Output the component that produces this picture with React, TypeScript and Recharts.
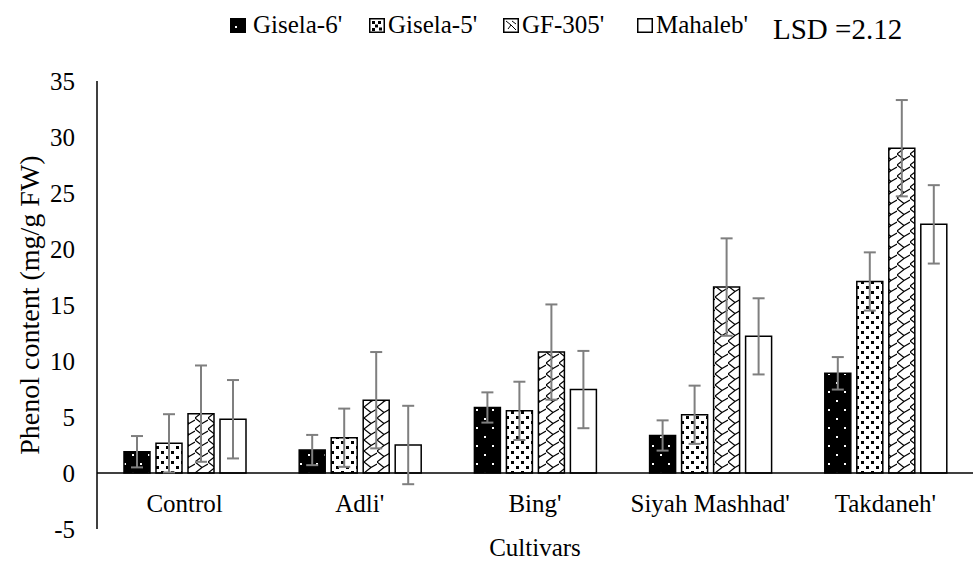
import { BarChart, Bar, XAxis, YAxis, ErrorBar, ReferenceLine } from 'recharts'

const FONT = "'Liberation Serif', 'Times New Roman', Times, serif"

// cultivars on the x axis
const categories = ['Control', "Adli'", "Bing'", "Siyah Mashhad'", "Takdaneh'"]

// phenol content per rootstock (mg/g FW)
const gisela6 = [1.9, 2.05, 5.85, 3.35, 8.9]
const gisela5 = [2.65, 3.15, 5.55, 5.2, 17.1]
const gf305 = [5.3, 6.5, 10.8, 16.6, 29.0]
const mahaleb = [4.8, 2.5, 7.45, 12.2, 22.2]

// error bar half-lengths
const gisela6Err = [1.4, 1.35, 1.35, 1.35, 1.45]
const gisela5Err = [2.6, 2.6, 2.6, 2.6, 2.6]
const gf305Err = [4.3, 4.3, 4.25, 4.35, 4.3]
const mahalebErr = [3.5, 3.5, 3.45, 3.4, 3.5]

const yTicks = [-5, 0, 5, 10, 15, 20, 25, 30, 35]

const chartData = categories.map((name, i) => ({
  name,
  g6: gisela6[i],
  g6Err: gisela6Err[i],
  g5: gisela5[i],
  g5Err: gisela5Err[i],
  gf: gf305[i],
  gfErr: gf305Err[i],
  mh: mahaleb[i],
  mhErr: mahalebErr[i],
}))

const series = [
  { key: 'g6', err: 'g6Err', name: "Gisela-6'", fill: 'url(#patG6)' },
  { key: 'g5', err: 'g5Err', name: "Gisela-5'", fill: 'url(#patG5)' },
  { key: 'gf', err: 'gfErr', name: "GF-305'", fill: 'url(#patGF)' },
  { key: 'mh', err: 'mhErr', name: "Mahaleb'", fill: '#ffffff' },
]

function CategoryTick({ x, y, payload }: any) {
  return (
    <text x={x} y={y - 17} textAnchor="middle" style={{ fontFamily: FONT, fontSize: 25 }} fill="#000">
      {payload.value}
    </text>
  )
}

function LegendIcon({ kind }: { kind: string }) {
  return (
    <svg width={16} height={15} style={{ display: 'block' }}>
      <rect x={0.75} y={0.75} width={14.5} height={13.5} fill={kind === 'g6' ? '#000' : '#fff'} stroke="#000" strokeWidth={1.5} />
      {kind === 'g6' && <rect x={5} y={8} width={2} height={2} fill="#fff" />}
      {kind === 'g5' && (
        <g fill="#000">
          <rect x={3} y={3} width={3} height={3} />
          <rect x={9} y={3} width={3} height={3} />
          <rect x={6} y={6.5} width={3} height={3} />
          <rect x={3} y={10} width={3} height={3} />
          <rect x={10} y={9.5} width={3} height={3} />
        </g>
      )}
      {kind === 'gf' && (
        <path d="M3 3 L8 7 L5 11 M8 7 L13 12 M9 3 L13 6" fill="none" stroke="#000" strokeWidth={1} />
      )}
    </svg>
  )
}

// left edges of the legend entries
const legendLeft = [230, 369, 503, 637]

function ChartLegend() {
  return (
    <div style={{ position: 'absolute', left: 0, top: 0, width: 976, height: 45, fontFamily: FONT, color: '#000' }}>
      {series.map((s, i) => (
        <div
          key={s.key}
          style={{ position: 'absolute', left: legendLeft[i], top: 13, display: 'flex', alignItems: 'center', gap: i === 0 ? 7 : 3, fontSize: 25, lineHeight: '24px' }}
        >
          <LegendIcon kind={s.key} />
          <span style={{ whiteSpace: 'nowrap' }}>{s.name}</span>
        </div>
      ))}
      <div style={{ position: 'absolute', left: 773, top: 14, fontSize: 29, lineHeight: '30px', whiteSpace: 'nowrap' }}>LSD =2.12</div>
    </div>
  )
}

export default function App() {
  return (
    <div style={{ position: 'absolute', left: 0, top: 0, width: 976, height: 565, background: '#fff', fontFamily: FONT }}>
      <BarChart
        width={976}
        height={565}
        data={chartData}
        margin={{ top: 81, right: 3, bottom: 0, left: 0 }}
        barSize={26}
        barGap={6}
        style={{ fontFamily: FONT }}
      >
        <defs>
          <pattern id="patG6" width={16} height={18} patternUnits="userSpaceOnUse">
            <rect width={16} height={18} fill="#000" />
            <rect x={4} y={4} width={2} height={2} fill="#fff" />
            <rect x={12} y={13} width={2} height={2} fill="#fff" />
          </pattern>
          <pattern id="patG5" width={10} height={10} patternUnits="userSpaceOnUse">
            <rect width={10} height={10} fill="#fff" />
            <rect x={1} y={1} width={3} height={3} fill="#000" />
            <rect x={6} y={6} width={3} height={3} fill="#000" />
          </pattern>
          <pattern id="patGF" width={13} height={11} patternUnits="userSpaceOnUse">
            <rect width={13} height={11} fill="#fff" />
            <path d="M0 0 L7 5.5 L0 11 M7 5.5 L13 2" fill="none" stroke="#000" strokeWidth={1.2} />
          </pattern>
        </defs>
        <XAxis
          dataKey="name"
          height={36}
          axisLine={false}
          tickLine={false}
          tickSize={0}
          tickMargin={0}
          tick={<CategoryTick />}
          interval={0}
          label={{ value: 'Cultivars', position: 'insideBottom', offset: 9, fill: '#000', style: { fontFamily: FONT, fontSize: 25 } }}
        />
        <YAxis
          width={97}
          domain={[-5, 35]}
          ticks={yTicks}
          interval={0}
          axisLine={{ stroke: '#000', strokeWidth: 1.5 }}
          tickLine={false}
          tickSize={0}
          tickMargin={22}
          tick={{ fill: '#000', style: { fontFamily: FONT, fontSize: 25 } }}
          label={{
            value: 'Phenol content (mg/g FW)',
            angle: -90,
            position: 'insideLeft',
            offset: 29,
            fill: '#000',
            style: { textAnchor: 'middle', fontFamily: FONT, fontSize: 28 },
          }}
        />
        <ReferenceLine y={0} stroke="#000" strokeWidth={1.5} />
        {series.map((s) => (
          <Bar key={s.key} dataKey={s.key} name={s.name} fill={s.fill} stroke="#000" strokeWidth={1.5} isAnimationActive={false}>
            <ErrorBar dataKey={s.err} direction="y" width={6} stroke="#7f7f7f" strokeWidth={2} />
          </Bar>
        ))}
      </BarChart>
      <ChartLegend />
    </div>
  )
}
